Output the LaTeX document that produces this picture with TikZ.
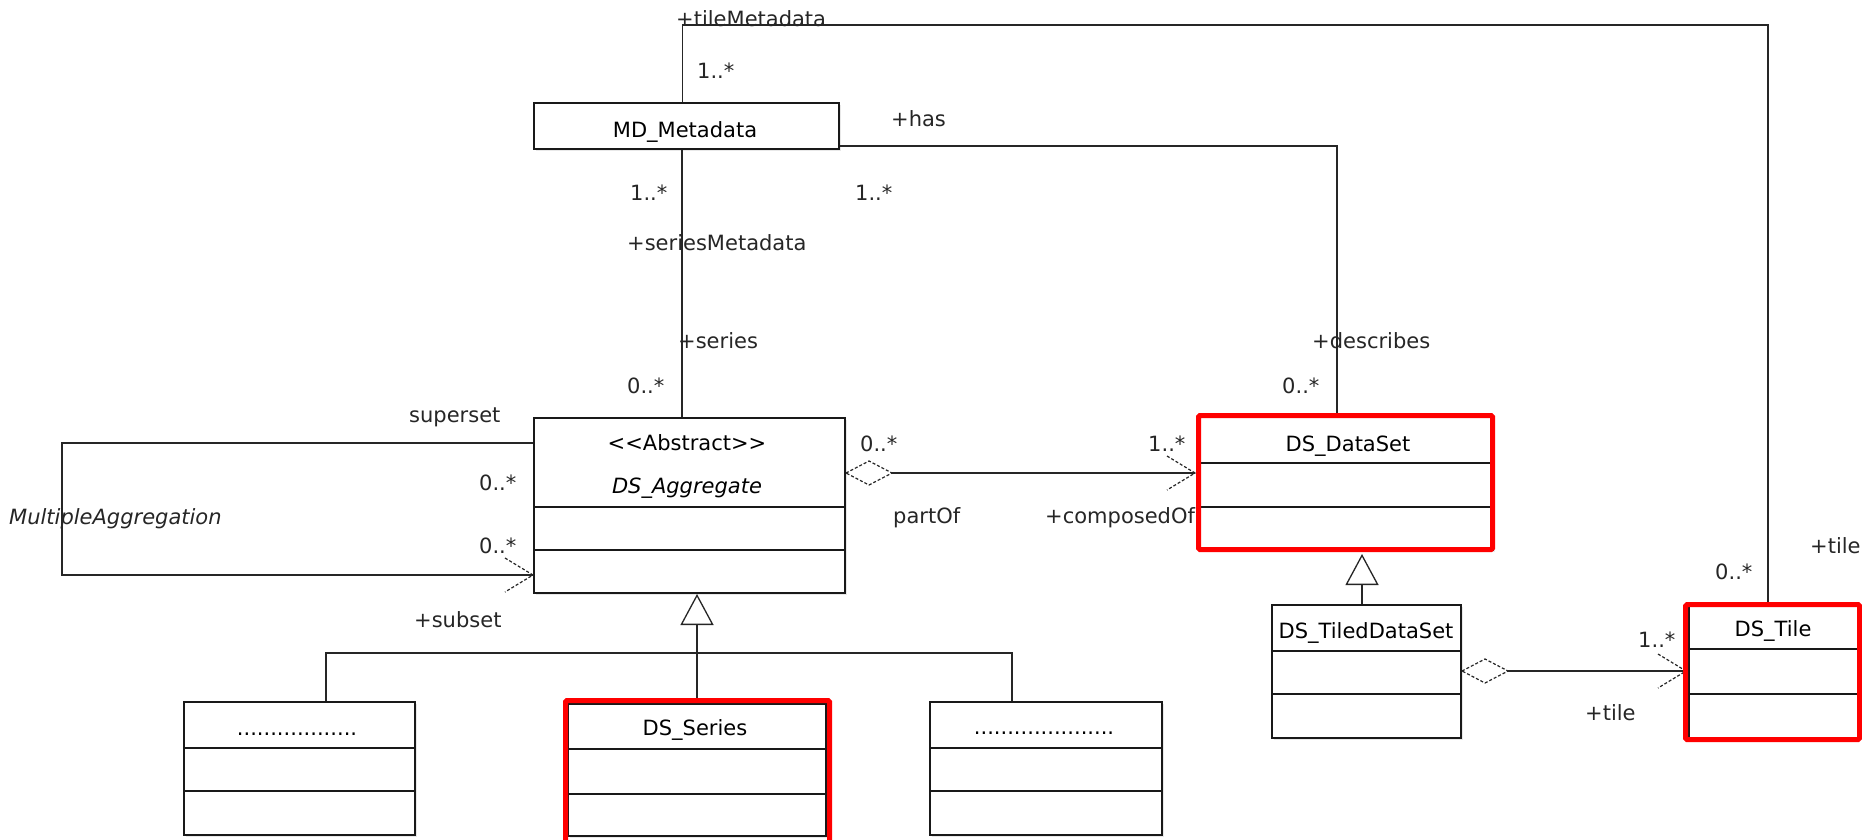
\documentclass[tikz,border=0pt]{standalone}
\usepackage{fontspec}
\newfontfamily\umlfont{DejaVu Sans}
\usetikzlibrary{arrows.meta,calc,shadows}
\newcommand\umlsize{\umlfont\fontsize{21}{25}\selectfont}
\newcommand\navhead[1]{\draw[barb] ($(#1)+(-28,-17)$) -- (#1) -- ($(#1)+(-28,17)$);}
\newcommand\aggdia[1]{\draw[barb, fill=white] (#1) -- ++(23,-12) -- ++(23,12) -- ++(-23,12) -- cycle;}
\begin{document}
\begin{tikzpicture}[x=1pt,y=-1pt,
  every node/.style={font=\umlsize, text=black!85},
  cls/.style={draw=black!90, line width=2pt, fill=white, anchor=north west, inner sep=0pt,
    drop shadow={opacity=0.18, shadow xshift=2pt, shadow yshift=-2pt}},
  comp/.style={draw=black!90, line width=2pt},
  conn/.style={draw=black!85, line width=1.3pt},
  lbl/.style={anchor=base west, inner sep=0pt},
  title/.style={anchor=base, inner sep=0pt, text=black},
  barb/.style={draw=black!85, line width=1.2pt, dash pattern=on 3pt off 2pt},
  gen/.style={conn, -{Triangle[open, length=31pt, width=33pt, fill=white]}},
  hl/.style={draw=red, line width=5pt, rounded corners=1.5pt}
]
\fill[white] (0,0) rectangle (1862,839);
\useasboundingbox (0,0) rectangle (1862,839);

% ---------- class boxes ----------
\node[cls, minimum width=305pt, minimum height=46pt] (md) at (533,102) {};
\node[cls, minimum width=311pt, minimum height=175pt] (agg) at (533,417) {};
\node[cls, minimum width=293pt, minimum height=133pt] (dataset) at (1199,416) {};
\node[cls, minimum width=189pt, minimum height=133pt] (tiled) at (1271,604) {};
\node[cls, minimum width=171pt, minimum height=132pt] (tile) at (1688,605) {};
\node[cls, minimum width=258pt, minimum height=132pt] (series) at (567,703) {};
\node[cls, minimum width=231pt, minimum height=133pt] (dotsL) at (183,701) {};
\node[cls, minimum width=232pt, minimum height=133pt] (dotsR) at (929,701) {};

% compartments
\draw[comp] (agg.west |- 0,507) -- (agg.east |- 0,507);
\draw[comp] (agg.west |- 0,550) -- (agg.east |- 0,550);
\draw[comp] (dataset.west |- 0,463) -- (dataset.east |- 0,463);
\draw[comp] (dataset.west |- 0,507) -- (dataset.east |- 0,507);
\draw[comp] (tiled.west |- 0,651) -- (tiled.east |- 0,651);
\draw[comp] (tiled.west |- 0,694) -- (tiled.east |- 0,694);
\draw[comp] (tile.west |- 0,649) -- (tile.east |- 0,649);
\draw[comp] (tile.west |- 0,694) -- (tile.east |- 0,694);
\draw[comp] (series.west |- 0,749) -- (series.east |- 0,749);
\draw[comp] (series.west |- 0,794) -- (series.east |- 0,794);
\draw[comp] (dotsL.west |- 0,748) -- (dotsL.east |- 0,748);
\draw[comp] (dotsL.west |- 0,791) -- (dotsL.east |- 0,791);
\draw[comp] (dotsR.west |- 0,748) -- (dotsR.east |- 0,748);
\draw[comp] (dotsR.west |- 0,791) -- (dotsR.east |- 0,791);

% titles
\node[title] (mdT) at (685,137) {MD\_Metadata};
\node[title] (aggS) at (687,450) {<{}<Abstract>{}>};
\node[title, font=\umlsize\itshape] (aggT) at (687,493) {DS\_Aggregate};
\node[title] (datasetT) at (1348,451) {DS\_DataSet};
\node[title] (tiledT) at (1366,638) {DS\_TiledDataSet};
\node[title] (tileT) at (1773,636) {DS\_Tile};
\node[title] (seriesT) at (695,735) {DS\_Series};
\node[anchor=center, inner sep=0pt, text=black] (dotsLT) at (297,734) {..................};
\node[anchor=center, inner sep=0pt, text=black] (dotsRT) at (1044,733) {.....................};

% ---------- connectors ----------
\coordinate (tmc) at (1768,25);
\draw[conn] ([xshift=-4pt]md.north) |- (tmc) -- (tmc |- tile.north);

\coordinate (hasc) at (1337,146);
\draw[conn] (md.east |- hasc) -- (hasc) -- (hasc |- dataset.north);

\coordinate (smx) at (682,0);
\draw[conn] (md.south -| smx) -- (agg.north -| smx);

\coordinate (sa1) at (62,443);
\coordinate (sa2) at (62,575);
\coordinate (h1) at (agg.west |- sa2);
\draw[conn] (agg.west |- sa1) -- (sa1) -- (sa2) -- (h1);
\navhead{h1}

\coordinate (pa) at (0,473);
\coordinate (d1) at (agg.east |- pa);
\coordinate (h2) at ($(dataset.west |- pa)+(-4,0)$);
\draw[conn] (d1) -- (h2);
\aggdia{d1}
\navhead{h2}

\coordinate (tl) at (0,671);
\coordinate (d2) at (tiled.east |- tl);
\coordinate (h3) at ($(tile.west |- tl)+(-2,0)$);
\draw[conn] (d2) -- (h3);
\aggdia{d2}
\navhead{h3}

\coordinate (bl) at (326,653);
\coordinate (br) at (1012,653);
\draw[conn] (bl |- dotsL.north) -- (bl) -- (br) -- (br |- dotsR.north);
\draw[gen] (series.north) -- (series.north |- agg.south);

\coordinate (gx) at (1362,0);
\draw[gen] (tiled.north -| gx) -- ($(dataset.south -| gx)+(0,3)$);

% ---------- highlights ----------
\draw[hl] (565.5,700.5) rectangle (829.5,846);
\draw[hl] (1198.5,415.5) rectangle (1492.5,549.5);
\draw[hl] (1685.5,604.5) rectangle (1859.5,739.5);

% ---------- labels ----------
\node[lbl] (lTileMeta) at (676,26) {+tileMetadata};
\node[lbl] (m1) at (697,78) {1..*};
\node[lbl] (lHas) at (891,126) {+has};
\node[lbl] (m2) at (630,200) {1..*};
\node[lbl] (m3) at (855,200) {1..*};
\node[lbl] (lSerMeta) at (627,250) {+seriesMetadata};
\node[lbl] (lSeries) at (678,348) {+series};
\node[lbl] (m4) at (627,393) {0..*};
\node[lbl] (lDescr) at (1312,348) {+describes};
\node[lbl] (m5) at (1282,393) {0..*};
\node[lbl] (lSuper) at (409,422) {superset};
\node[lbl] (m6) at (479,490) {0..*};
\node[lbl] (m7) at (479,553) {0..*};
\node[lbl, font=\umlsize\itshape] (lMulti) at (9,524) {MultipleAggregation};
\node[lbl] (lSubset) at (414,627) {+subset};
\node[lbl] (m8) at (860,451) {0..*};
\node[lbl] (m9) at (1148,451) {1..*};
\node[lbl] (lPartOf) at (893,523) {partOf};
\node[lbl] (lComp) at (1045,523) {+composedOf};
\node[lbl] (m10) at (1638,647) {1..*};
\node[lbl] (lTile1) at (1585,720) {+tile};
\node[lbl] (m11) at (1715,579) {0..*};
\node[lbl] (lTile2) at (1810,553) {+tile};
\end{tikzpicture}
\end{document}
